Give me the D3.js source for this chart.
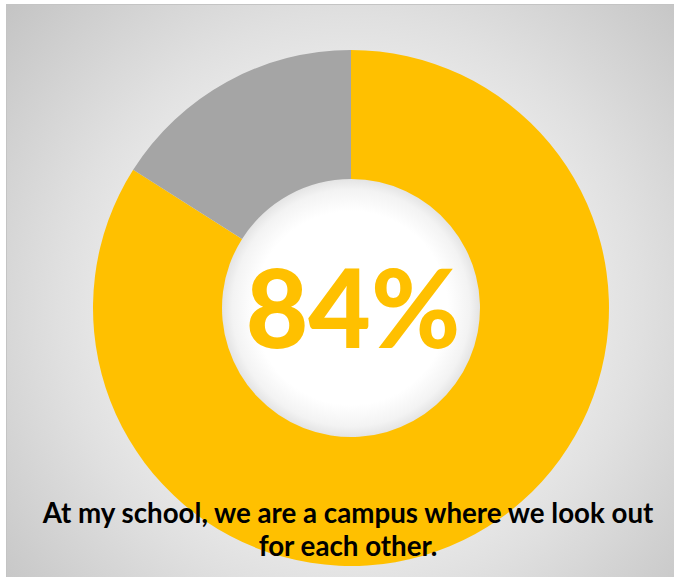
<!DOCTYPE html>
<html>
<head>
<meta charset="utf-8">
<script src="https://cdn.jsdelivr.net/npm/d3@7"></script>
<style>
  html, body { margin: 0; padding: 0; background: #ffffff; }
  svg { display: block; }
</style>
</head>
<body>
<svg id="chart" width="674" height="577"></svg>
<script>
// Survey response share
const categories = ["Agree", "Other"];
const values = [84, 16];
const colors = ["#FFC000", "#A5A5A5"];
const caption = ["At my school, we are a campus where we look out", "for each other."];

const W = 674, H = 577;
const cx = 351, cy = 308;
const outerR = 258, innerR = 129;

const svg = d3.select("#chart");
const defs = svg.append("defs");

// panel background: light in the middle, darker toward corners
const bg = defs.append("radialGradient")
  .attr("id", "bgGrad")
  .attr("gradientUnits", "userSpaceOnUse")
  .attr("cx", cx).attr("cy", cy).attr("r", 470);
[[0, "#ffffff"], [0.45, "#ececec"], [0.62, "#e0e0e0"], [1, "#c2c2c2"]]
  .forEach(([o, c]) => bg.append("stop").attr("offset", o).attr("stop-color", c));

// hole: white centre fading to grey at the rim
const hole = defs.append("radialGradient")
  .attr("id", "holeGrad")
  .attr("gradientUnits", "userSpaceOnUse")
  .attr("cx", cx).attr("cy", cy).attr("r", innerR);
[[0, "#ffffff"], [0.75, "#ffffff"], [0.92, "#f3f3f3"], [1, "#e4e4e4"]]
  .forEach(([o, c]) => hole.append("stop").attr("offset", o).attr("stop-color", c));

svg.append("rect")
  .attr("x", 6.5).attr("y", 4.5)
  .attr("width", W).attr("height", H)
  .attr("fill", "url(#bgGrad)")
  .attr("stroke", "#c4c4c4").attr("stroke-width", 1);

svg.append("circle")
  .attr("cx", cx).attr("cy", cy).attr("r", innerR + 1)
  .attr("fill", "url(#holeGrad)");

const pie = d3.pie().sort(null).value(d => d.value);
const arc = d3.arc().innerRadius(innerR).outerRadius(outerR);
const data = categories.map((c, i) => ({ name: c, value: values[i], color: colors[i] }));

const g = svg.append("g").attr("transform", `translate(${cx},${cy})`);
g.selectAll("path")
  .data(pie(data))
  .join("path")
  .attr("d", arc)
  .attr("fill", d => d.data.color);

// centre value
const total = d3.sum(values);
const pct = Math.round(values[0] / total * 100);
g.append("text")
  .attr("x", 2).attr("y", 40)
  .attr("text-anchor", "middle")
  .attr("font-family", "Lato, 'Open Sans', sans-serif")
  .attr("font-weight", 900)
  .attr("font-size", 108)
  .attr("fill", colors[0])
  .text(pct + "%");

// caption
const capG = svg.append("g");
const lines = capG.selectAll("text")
  .data(caption)
  .join("text")
  .attr("x", 348)
  .attr("y", (d, i) => 523 + i * 33)
  .attr("text-anchor", "middle")
  .attr("font-family", "Lato, 'Open Sans', sans-serif")
  .attr("font-weight", 700)
  .attr("font-size", 26)
  .attr("fill", "#000000")
  .text(d => d);

// fit the first line to its span, keep the same size for the second
const w0 = lines.node().getComputedTextLength();
const fs = 26 * 611 / w0;
lines.attr("font-size", fs);
</script>
</body>
</html>
